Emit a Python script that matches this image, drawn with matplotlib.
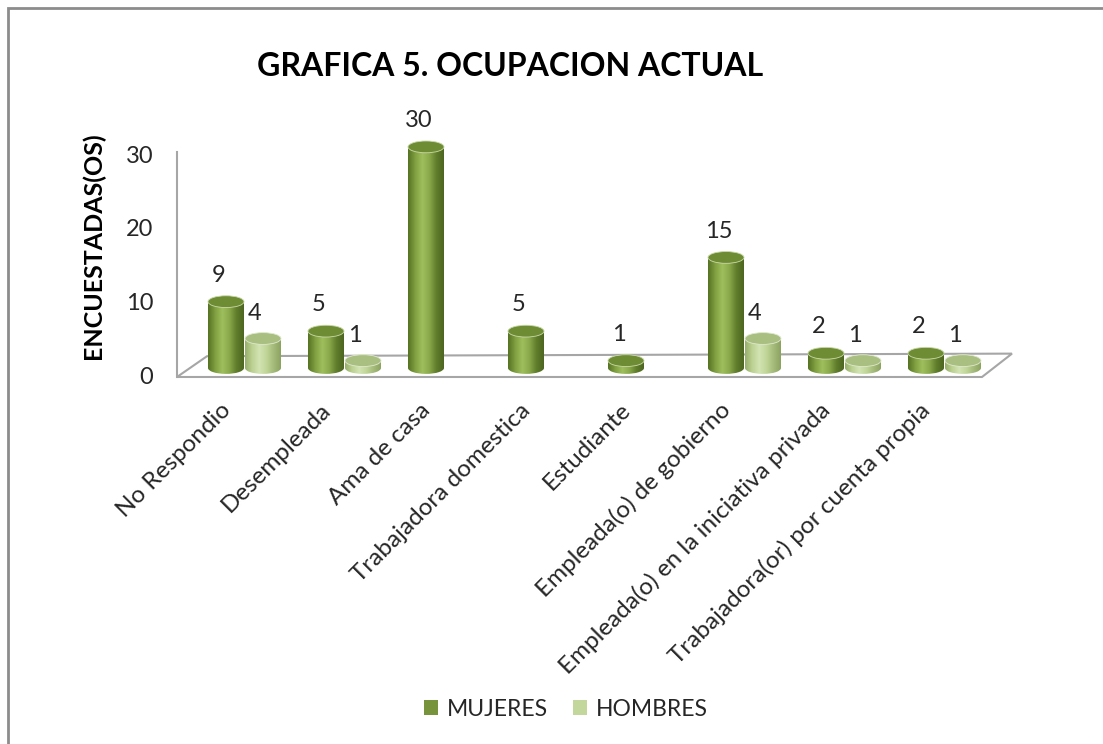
import numpy as np
import matplotlib
matplotlib.use("Agg")
import matplotlib.pyplot as plt
from matplotlib.patches import Rectangle, Ellipse, Polygon, Patch
from matplotlib.colors import LinearSegmentedColormap
from matplotlib.transforms import blended_transform_factory

# ── data ────────────────────────────────────────────────────────────────
categories = ["No Respondio", "Desempleada", "Ama de casa", "Trabajadora domestica",
              "Estudiante", "Empleada(o) de gobierno",
              "Empleada(o) en la iniciativa privada", "Trabajadora(or) por cuenta propia"]
mujeres = [9, 5, 30, 5, 1, 15, 2, 2]
hombres = [4, 1, 0, 0, 0, 4, 1, 1]
series_names = ["MUJERES", "HOMBRES"]
y_ticks = [0, 10, 20, 30]

plt.rcParams['font.family'] = ['Lato', 'DejaVu Sans']
TXT = '#262626'

fig = plt.figure(figsize=(11.03, 7.44), dpi=100)
ax = fig.add_axes([177 / 1103, 1 - 390 / 744, 873 / 1103, 290 / 744])
ax.set_xlim(-0.49, 8.24)
ax.set_ylim(-2.985, 36.36)

# cylinder colour ramps (dark edge -> light centre -> dark edge)
cm_m = LinearSegmentedColormap.from_list(
    'm', ['#557124', '#7f9f40', '#9fbf5e', '#88a849', '#5f7c2b', '#4c6620'])
cm_h = LinearSegmentedColormap.from_list(
    'h', ['#97ad69', '#bcd193', '#d2e4b2', '#c0d598', '#a4ba7a', '#8ca261'])
top_m, top_h = '#6e8c34', '#a9bf82'

bar_w = 0.36
ell_h = 1.6          # depth of the top/bottom ellipses in data units
grad = np.linspace(0, 1, 256).reshape(1, -1)


def cylinder(xc, val, cmap, top, z):
    x0, x1 = xc - bar_w / 2, xc + bar_w / 2
    body = Rectangle((x0, 0), bar_w, val, facecolor='none', edgecolor='none')
    base = Ellipse((xc, 0), bar_w, ell_h, facecolor='none', edgecolor='none')
    for p in (body, base):
        ax.add_patch(p)
        im = ax.imshow(grad, cmap=cmap, aspect='auto', zorder=z,
                       extent=(x0, x1, -ell_h, val + ell_h), interpolation='bilinear')
        im.set_clip_path(p)
    ax.add_patch(Ellipse((xc, val), bar_w, ell_h, facecolor=top,
                         edgecolor='#c9d9a8' if top == top_m else '#dfe9cb',
                         lw=0.6, zorder=z + 0.1))


# floor of the 3D plot
floor = Polygon([(-0.49, -1.22), (7.56, -1.22), (7.86, 1.95), (-0.19, 1.6)],
                closed=True, facecolor='none', edgecolor='#a6a6a6', lw=1.5, zorder=1)
ax.add_patch(floor)

x = np.arange(len(categories))
for i in x:
    if mujeres[i] > 0:
        cylinder(i, mujeres[i], cm_m, top_m, 3)
        ax.annotate(str(mujeres[i]), (i, mujeres[i]), xytext=(-5, 19),
                    textcoords='offset points', ha='center', va='center',
                    fontsize=17, color=TXT, zorder=6)
    if hombres[i] > 0:
        cylinder(i + bar_w + 0.01, hombres[i], cm_h, top_h, 2)
        ax.annotate(str(hombres[i]), (i + bar_w + 0.01, hombres[i]), xytext=(-6, 18),
                    textcoords='offset points', ha='center', va='center',
                    fontsize=17, color=TXT, zorder=6)

ax.set_xlim(-0.49, 8.24)
ax.set_ylim(-2.985, 36.36)

# axes styling
for s in ('top', 'right', 'bottom'):
    ax.spines[s].set_visible(False)
ax.spines['left'].set_bounds(-1.22, 29.3)
ax.spines['left'].set_color('#a6a6a6')
ax.spines['left'].set_linewidth(1.5)
ax.set_xticks([])
ax.set_yticks(np.array(y_ticks) - 1.0, [str(t) for t in y_ticks])
ax.tick_params(axis='y', length=0, pad=17, labelsize=17, labelcolor=TXT)
ax.patch.set_alpha(0)

# rotated category labels
trans = blended_transform_factory(ax.transData, ax.transAxes)
for i, lab in enumerate(categories):
    ax.text(i + 0.01, -0.058, lab, transform=trans, rotation=45,
            rotation_mode='anchor', ha='right', va='center',
            fontsize=17.5, color=TXT)

fig.text(93 / 1103, 1 - 246 / 744, "ENCUESTADAS(OS)", rotation=90,
         ha='center', va='center', fontsize=18, fontweight='bold', color='black')
fig.text(510 / 1103, 1 - 67 / 744, "GRAFICA 5. OCUPACION ACTUAL",
         ha='center', va='center', fontsize=23, fontweight='bold', color='black')

handles = [Patch(facecolor='#77933c'), Patch(facecolor='#c3d69b')]
fig.legend(handles, series_names, loc='center', bbox_to_anchor=(566 / 1103, 1 - 709 / 744),
           ncol=2, frameon=False, fontsize=16.5, handlelength=0.6, handleheight=0.6,
           handletextpad=0.4, columnspacing=1.1, labelcolor=TXT)

# outer chart frame
fig.patches.append(Rectangle((8 / 1103, -0.1), 1.2, 1.1 - 8 / 744,
                             transform=fig.transFigure, fill=False,
                             edgecolor='#8c8c8c', lw=2))

fig.savefig('out.png', dpi=100)
